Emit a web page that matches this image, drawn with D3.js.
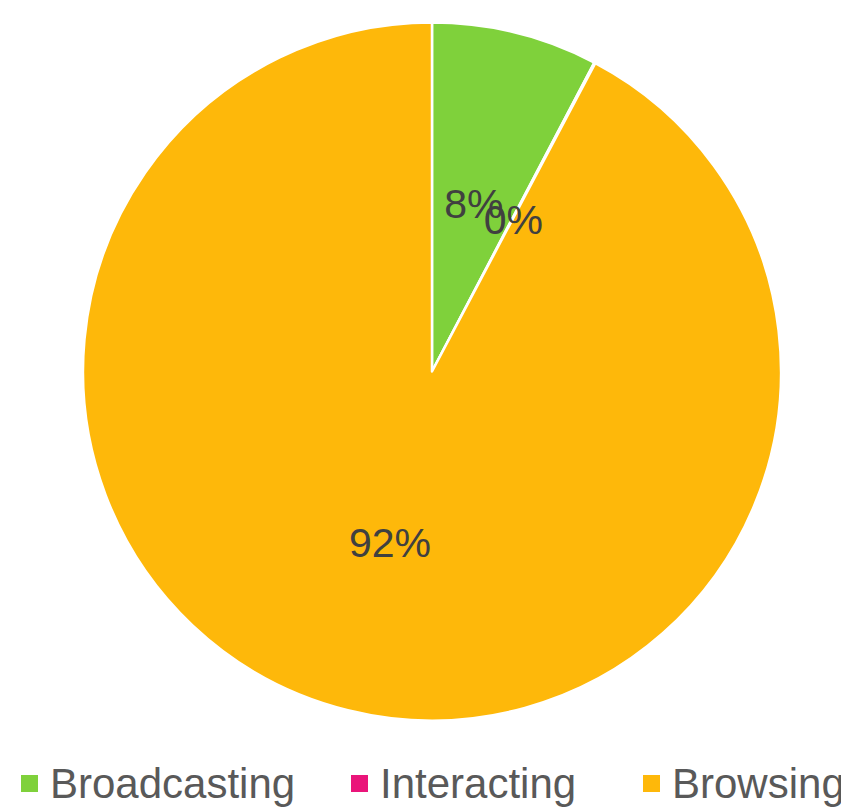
<!DOCTYPE html>
<html><head><meta charset="utf-8">
<script src="https://cdn.jsdelivr.net/npm/d3@7"></script>
<style>html,body{margin:0;padding:0;background:#fff;overflow:hidden}</style>
</head><body>
<svg id="chart" width="841" height="809"></svg>
<script>
const categories = ["Broadcasting", "Interacting", "Browsing"];
const values = [7.7, 0.05, 92.25];
const labels = ["8%", "0%", "92%"];
const colors = ["#7FD13B", "#EA157A", "#FEB80A"];

const svg = d3.select("#chart");
const cx = 432, cy = 371.5, R = 349;
const data = categories.map((c, i) => ({cat: c, value: values[i], label: labels[i], color: colors[i]}));
const pie = d3.pie().value(d => d.value).sort(null);
const arc = d3.arc().innerRadius(0).outerRadius(R);
const arcs = pie(data);
const g = svg.append("g").attr("transform", `translate(${cx},${cy})`);
g.selectAll("path").data(arcs).join("path")
  .attr("d", arc).attr("fill", d => d.data.color)
  .attr("stroke", "#fff").attr("stroke-width", 2.5).attr("stroke-linejoin", "round");
g.selectAll("text").data(arcs).join("text")
  .attr("transform", d => `translate(${arc.centroid(d)})`)
  .attr("text-anchor", "middle").attr("dy", "0.4em")
  .attr("font-family", "Liberation Sans, Arial, sans-serif")
  .attr("font-size", 41).attr("fill", "#404040")
  .text(d => d.data.label);

const legendX = [21, 351, 643];
const lg = svg.append("g");
data.forEach((d, i) => {
  lg.append("rect").attr("x", legendX[i]).attr("y", 775).attr("width", 17).attr("height", 17).attr("fill", d.color);
  lg.append("text").attr("x", legendX[i] + 29).attr("y", 798)
    .attr("font-family", "Liberation Sans, Arial, sans-serif")
    .attr("font-size", 42).attr("fill", "#595959").text(d.cat);
});
</script>
</body></html>
